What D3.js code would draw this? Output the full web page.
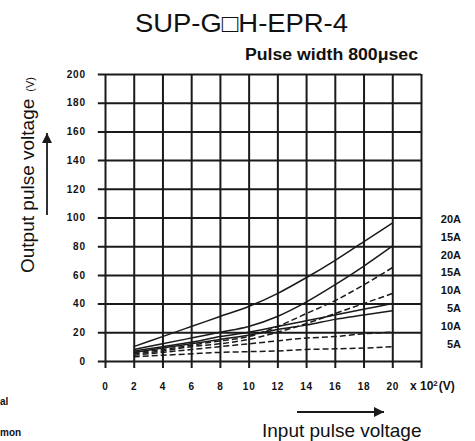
<!DOCTYPE html>
<html lang="en">
<head>
<meta charset="UTF-8">
<title>SUP-G□H-EPR-4</title>
<script src="https://d3js.org/d3.v7.min.js"></script>
<style>
  body { margin: 0; background: #fff; }
  svg { display: block; font-family: "Liberation Sans", Arial, sans-serif; }
  .tick text { font-weight: bold; font-size: 10px; letter-spacing: 0.8px; fill: #111; }
</style>
</head>
<body>
<div class="container"></div>
<script>
// input voltage (x 10^2 V) where the curves were read
const inputVoltage = [2, 4, 6, 8, 10, 12, 14, 16, 18, 20];

// normal mode (solid)
const normal20A = [10, 17, 24, 31, 38, 47, 58, 70, 83, 96];
const normal15A = [8, 12, 16, 20, 24, 31, 41, 53, 66, 80];
const normal10A = [7, 10, 13, 17, 20, 24, 28, 32, 36, 40];
const normal5A  = [6, 9, 12, 15, 18, 22, 25, 29, 32, 35];

// common mode (dashed)
const common20A = [6, 8, 11, 14, 17, 24, 33, 42, 53, 65];
const common15A = [5, 7, 10, 12, 15, 20, 26, 33, 40, 47];
const common10A = [4, 6, 8, 10, 12, 14, 16, 17, 19, 20];
const common5A  = [3, 4, 5, 6, 6.5, 7, 8, 8.5, 9, 10];

const xGrid = [0, 2, 4, 6, 8, 10, 12, 14, 16, 18, 20, 22];
const yGrid = [0, 20, 40, 60, 80, 100, 120, 140, 160, 180, 200];
const legendLabels = ["20A", "15A", "20A", "15A", "10A", "5A", "10A", "5A"];

const series = [
  { mode: "normal", values: normal20A },
  { mode: "normal", values: normal15A },
  { mode: "normal", values: normal10A },
  { mode: "normal", values: normal5A },
  { mode: "common", values: common20A },
  { mode: "common", values: common15A },
  { mode: "common", values: common10A },
  { mode: "common", values: common5A }
];

const W = 475, H = 441;
const svg = d3.select(".container")
  .append("svg")
  .attr("width", W)
  .attr("height", H);

const x = d3.scaleLinear().domain([0, 22]).range([105, 421]);
const y = d3.scaleLinear().domain([0, 200]).range([361, 74]);

const ink = "#1a1a1a";

// vertical grid + x labels
const gx = svg.append("g")
  .attr("transform", `translate(0,${y(0) + 7})`)
  .call(d3.axisBottom(x)
    .tickValues(xGrid)
    .tickSize(-(y(0) + 7 - y(200)))
    .tickPadding(15)
    .tickFormat(d => d <= 20 ? d : ""));
gx.select(".domain").remove();
gx.selectAll(".tick line").attr("stroke", ink).attr("stroke-width", 2);

// horizontal grid + y labels
const gy = svg.append("g")
  .attr("transform", `translate(${x(-0.5)},0)`)
  .call(d3.axisLeft(y)
    .tickValues(yGrid)
    .tickSize(-(x(22) - x(-0.5)))
    .tickPadding(12));
gy.select(".domain").remove();
gy.selectAll(".tick line").attr("stroke", ink).attr("stroke-width", 2);

// curves
const line = d3.line()
  .x((d, i) => x(inputVoltage[i]))
  .y(d => y(d))
  .curve(d3.curveMonotoneX);

svg.append("g")
  .selectAll("path")
  .data(series)
  .join("path")
  .attr("d", d => line(d.values))
  .attr("fill", "none")
  .attr("stroke", ink)
  .attr("stroke-width", 1.5)
  .attr("stroke-dasharray", d => d.mode === "common" ? "6,3" : null);

// right-hand current labels
svg.append("g")
  .selectAll("text")
  .data(legendLabels)
  .join("text")
  .attr("x", 461)
  .attr("y", (d, i) => 223 + i * 17.8)
  .attr("text-anchor", "end")
  .attr("font-weight", "bold")
  .attr("font-size", 11)
  .attr("fill", "#111")
  .text(d => d);

// unit after x labels
svg.append("text")
  .attr("x", 410)
  .attr("y", 390)
  .attr("font-weight", "bold")
  .attr("font-size", 12)
  .attr("fill", "#111")
  .call(t => {
    t.append("tspan").text("x 10");
    t.append("tspan").attr("font-size", 8).attr("dy", -4).text("2");
    t.append("tspan").attr("dy", 4).attr("dx", 1).text("(V)");
  });

// title
svg.append("text")
  .attr("x", 241.5)
  .attr("y", 32)
  .attr("text-anchor", "middle")
  .attr("font-size", 25)
  .attr("textLength", 213)
  .attr("lengthAdjust", "spacingAndGlyphs")
  .attr("fill", "#111")
  .text("SUP-G\u25A1H-EPR-4");

svg.append("text")
  .attr("x", 418)
  .attr("y", 60)
  .attr("text-anchor", "end")
  .attr("font-weight", "bold")
  .attr("font-size", 16)
  .attr("textLength", 173)
  .attr("lengthAdjust", "spacingAndGlyphs")
  .attr("fill", "#111")
  .text("Pulse width 800\u03bcsec");

// y axis title
svg.append("text")
  .attr("transform", "translate(34,273) rotate(-90)")
  .attr("font-size", 19)
  .attr("fill", "#111")
  .call(t => {
    t.append("tspan").text("Output pulse voltage");
    t.append("tspan").attr("dx", 7).attr("font-size", 11).text("(V)");
  });

// x axis title
svg.append("text")
  .attr("x", 262)
  .attr("y", 437)
  .attr("font-size", 19)
  .attr("fill", "#111")
  .text("Input pulse voltage");

// arrows
const defs = svg.append("defs");
defs.append("marker")
  .attr("id", "head")
  .attr("viewBox", "0 0 10 10")
  .attr("refX", 10).attr("refY", 5)
  .attr("markerWidth", 10).attr("markerHeight", 10)
  .attr("markerUnits", "userSpaceOnUse")
  .attr("orient", "auto")
  .append("path")
  .attr("d", "M0,0 L10,5 L0,10 Z")
  .attr("fill", ink);

svg.append("line")
  .attr("x1", 47).attr("y1", 215).attr("x2", 47).attr("y2", 133)
  .attr("stroke", ink).attr("stroke-width", 1.8)
  .attr("marker-end", "url(#head)");

svg.append("line")
  .attr("x1", 297).attr("y1", 412).attr("x2", 384).attr("y2", 412)
  .attr("stroke", ink).attr("stroke-width", 1.8)
  .attr("marker-end", "url(#head)");

// fragments of notes visible at the lower left edge
svg.append("text")
  .attr("x", 0).attr("y", 405)
  .attr("font-weight", "bold").attr("font-size", 10)
  .attr("fill", "#111")
  .text("al");
svg.append("text")
  .attr("x", 0).attr("y", 436)
  .attr("font-weight", "bold").attr("font-size", 10)
  .attr("fill", "#111")
  .text("mon");
</script>
</body>
</html>
